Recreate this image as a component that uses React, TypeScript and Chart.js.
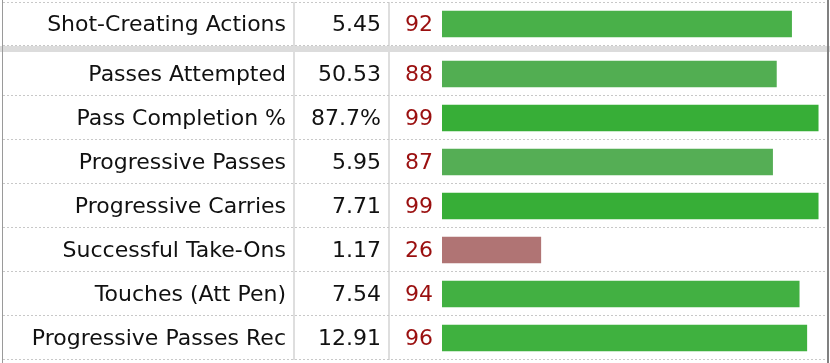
import React, { useEffect, useRef } from 'react';
import { Chart, registerables } from 'chart.js';

Chart.register(...registerables);

// ---- data ----
const statLabels = [
  'Shot-Creating Actions',
  'Passes Attempted',
  'Pass Completion %',
  'Progressive Passes',
  'Progressive Carries',
  'Successful Take-Ons',
  'Touches (Att Pen)',
  'Progressive Passes Rec',
];
const statValues = ['5.45', '50.53', '87.7%', '5.95', '7.71', '1.17', '7.54', '12.91'];
const percentiles = [92, 88, 99, 87, 99, 26, 94, 96];
const barColors = ['#49b049', '#52ae52', '#37ae37', '#55ae55', '#37ae37', '#b07474', '#42b042', '#3fb13f'];
const SECTION_SPLIT = 1; // first section holds one row

const FONT = '22px "DejaVu Sans", Verdana, sans-serif';

function makePlugin(labels: string[], vals: string[], pcts: number[], drawTop: boolean) {
  return {
    id: 'tableText',
    beforeDatasetsDraw(chart: any) {
      const { ctx, chartArea } = chart;
      const ys = chart.scales.y;
      const n = labels.length;
      const rowH = (chartArea.bottom - chartArea.top) / n;
      ctx.save();
      // column dividers
      ctx.strokeStyle = '#dedede';
      ctx.lineWidth = 2;
      [294, 389].forEach((x) => {
        ctx.beginPath();
        ctx.moveTo(x, chartArea.top);
        ctx.lineTo(x, chartArea.bottom);
        ctx.stroke();
      });
      // dotted row separators
      ctx.strokeStyle = '#c8c8c8';
      ctx.lineWidth = 1;
      ctx.setLineDash([2, 2]);
      for (let i = 0; i < n; i++) {
        const c = ys.getPixelForValue(i);
        const b = Math.round(c + rowH / 2) - 0.5;
        ctx.beginPath();
        ctx.moveTo(3, b);
        ctx.lineTo(827, b);
        ctx.stroke();
        if (i === 0 && drawTop) {
          const t = Math.round(c - rowH / 2) + 0.5;
          ctx.beginPath();
          ctx.moveTo(3, t);
          ctx.lineTo(827, t);
          ctx.stroke();
        }
      }
      ctx.restore();
    },
    afterDatasetsDraw(chart: any) {
      const { ctx } = chart;
      const ys = chart.scales.y;
      ctx.save();
      ctx.font = FONT;
      ctx.textBaseline = 'middle';
      ctx.textAlign = 'right';
      for (let i = 0; i < labels.length; i++) {
        const y = ys.getPixelForValue(i) + 1;
        ctx.fillStyle = '#111111';
        ctx.fillText(labels[i], 286, y);
        ctx.fillText(vals[i], 381, y);
        ctx.fillStyle = '#9a0f0f';
        ctx.fillText(String(pcts[i]), 433, y);
      }
      ctx.restore();
    },
  };
}

function makeConfig(labels: string[], vals: string[], pcts: number[], colors: string[], drawTop: boolean, padTop: number, padBottom: number): any {
  return {
    type: 'bar',
    data: {
      labels,
      datasets: [
        {
          data: pcts,
          backgroundColor: colors,
          borderWidth: 0,
          barThickness: 26,
        },
      ],
    },
    options: {
      indexAxis: 'y',
      animation: false,
      responsive: false,
      maintainAspectRatio: false,
      layout: { padding: { left: 442, right: 8, top: padTop, bottom: padBottom } },
      scales: {
        x: { display: false, min: 0, max: 100 },
        y: { display: false },
      },
      plugins: { legend: { display: false }, tooltip: { enabled: false } },
    },
    plugins: [makePlugin(labels, vals, pcts, drawTop)],
  };
}

function TableChart(props: { start: number; end: number; top: number; height: number; padTop: number; padBottom: number; drawTop: boolean }) {
  const ref = useRef<HTMLCanvasElement | null>(null);
  useEffect(() => {
    if (!ref.current) return;
    const { start, end } = props;
    const chart = new Chart(
      ref.current,
      makeConfig(
        statLabels.slice(start, end),
        statValues.slice(start, end),
        percentiles.slice(start, end),
        barColors.slice(start, end),
        props.drawTop,
        props.padTop,
        props.padBottom
      )
    );
    return () => chart.destroy();
  }, []);
  return (
    <canvas
      ref={ref}
      width={830}
      height={props.height}
      style={{ position: 'absolute', left: 0, top: props.top, width: 830, height: props.height }}
    />
  );
}

export default function App() {
  useEffect(() => {
    document.body.style.margin = '0';
  }, []);
  return (
    <div style={{ position: 'relative', width: 830, height: 363, background: '#ffffff', overflow: 'hidden' }}>
      <TableChart start={0} end={SECTION_SPLIT} top={0} height={47} padTop={2} padBottom={1} drawTop={true} />
      <div style={{ position: 'absolute', left: 0, top: 46, width: 830, height: 6, background: '#dcdcdc' }} />
      <TableChart start={SECTION_SPLIT} end={statLabels.length} top={52} height={311} padTop={0} padBottom={3} drawTop={false} />
      <div style={{ position: 'absolute', left: 2, top: 0, width: 1, height: 363, background: '#9a9a9a' }} />
      <div style={{ position: 'absolute', left: 827, top: 0, width: 2, height: 363, background: '#808080' }} />
    </div>
  );
}
